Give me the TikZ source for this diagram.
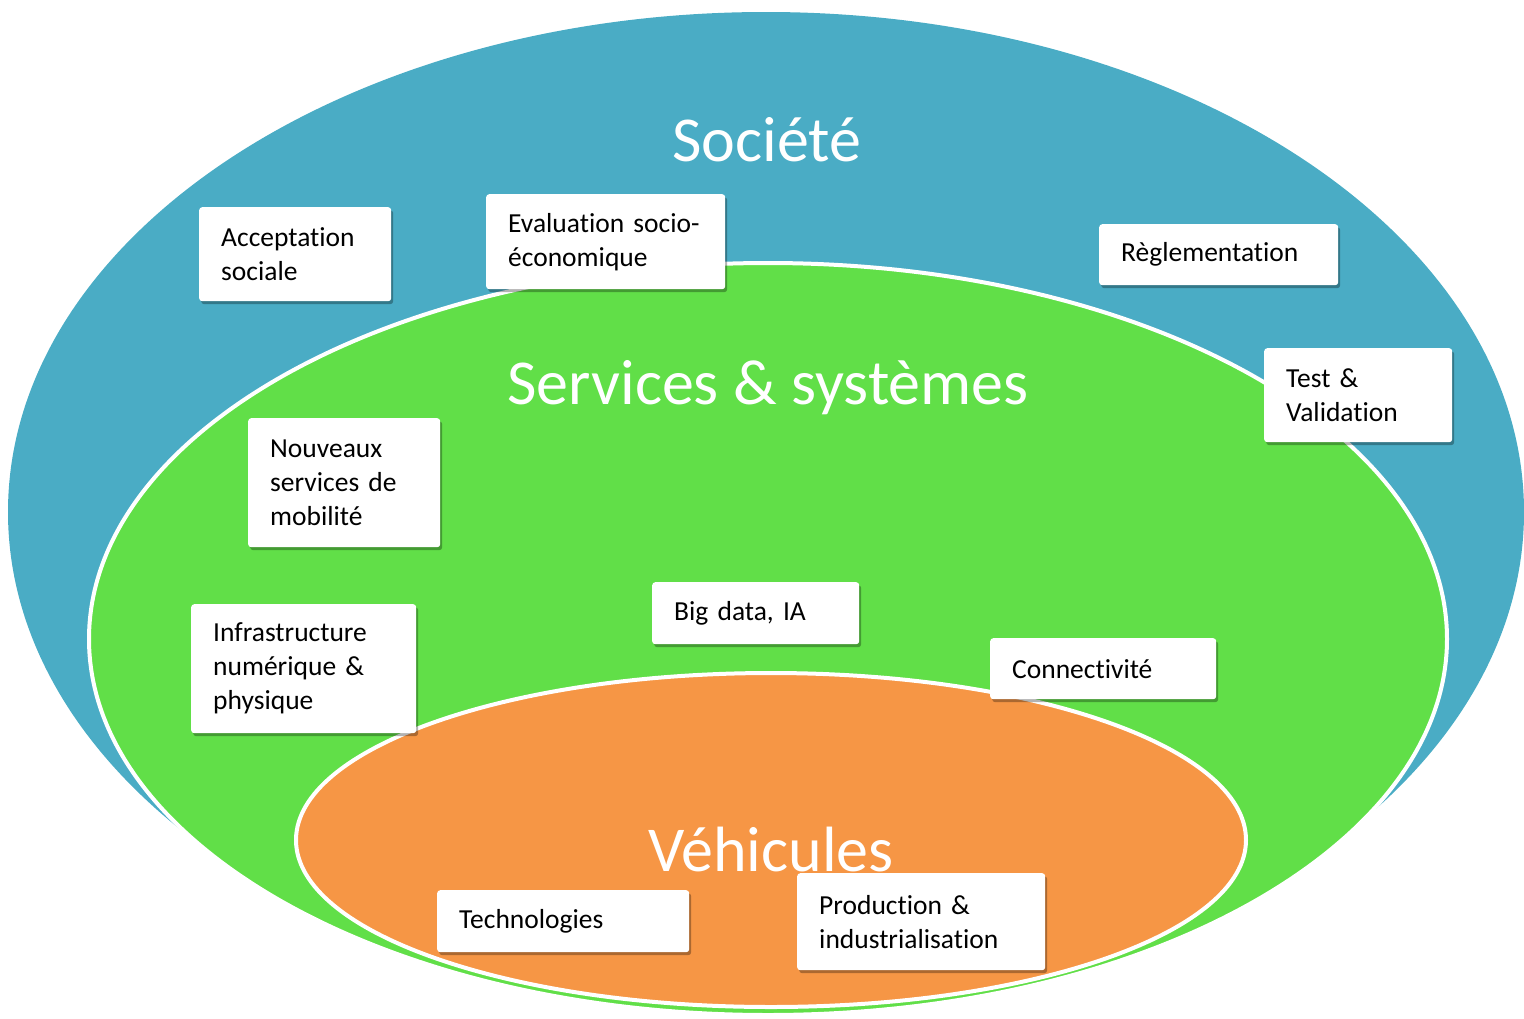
\documentclass[tikz,border=0pt]{standalone}
\usepackage{fontspec}
\setmainfont{Carlito}[Ligatures={NoCommon}]
\usetikzlibrary{shadows}
\definecolor{socblue}{HTML}{4AACC5}
\definecolor{servgreen}{HTML}{61DF48}
\definecolor{vehorange}{HTML}{F69645}
\tikzset{
  infobox/.style={draw=none, fill=white, rounded corners=3pt, anchor=north west,
    align=left, inner xsep=22pt, inner ysep=0pt,
    font=\fontsize{27.5}{34}\selectfont, text=black,
    drop shadow={shadow xshift=2pt, shadow yshift=-3pt, opacity=0.3, fill=black}},
  title/.style={text=white, font=\fontsize{64}{70}\selectfont, inner sep=0pt},
}
\begin{document}
\begin{tikzpicture}[x=1pt,y=-1pt]
\useasboundingbox (0,0) rectangle (1524,1018);
% ellipses
\fill[socblue] (766,512) ellipse [x radius=758, y radius=500];
\draw[fill=servgreen, draw=white, line width=4pt] (768,639) ellipse [x radius=679, y radius=376];
\draw[fill=vehorange, draw=white, line width=4pt] (771,840) ellipse [x radius=475, y radius=167];
% titles
\node[title] (soc) at (767,140) {Société};
\node[title] (serv) at (768,388) {Services \& systèmes};
\node[title] (veh) at (771,850) {Véhicules};
% boxes
\node[infobox, text width=148pt, minimum height=94pt] (acc) at (199,207) {Acceptation\\sociale};
\node[infobox, text width=195pt, minimum height=95pt] (eval) at (486,194) {Evaluation socio-\\économique};
\node[infobox, text width=195pt, minimum height=61pt] (regl) at (1099,224) {Règlementation};
\node[infobox, text width=144pt, minimum height=94pt] (test) at (1264,348) {Test \&\\Validation};
\node[infobox, text width=148pt, minimum height=129pt] (nouv) at (248,418) {Nouveaux\\services de\\mobilité};
\node[infobox, text width=181pt, minimum height=129pt] (infra) at (191,604) {Infrastructure\\numérique \&\\physique};
\node[infobox, text width=163pt, minimum height=62pt] (big) at (652,582) {Big data, IA};
\node[infobox, text width=182pt, minimum height=61pt] (conn) at (990,638) {Connectivité};
\node[infobox, text width=208pt, minimum height=62pt] (tech) at (437,890) {Technologies};
\node[infobox, text width=204pt, minimum height=97pt] (prod) at (797,873) {Production \&\\industrialisation};
\end{tikzpicture}
\end{document}
